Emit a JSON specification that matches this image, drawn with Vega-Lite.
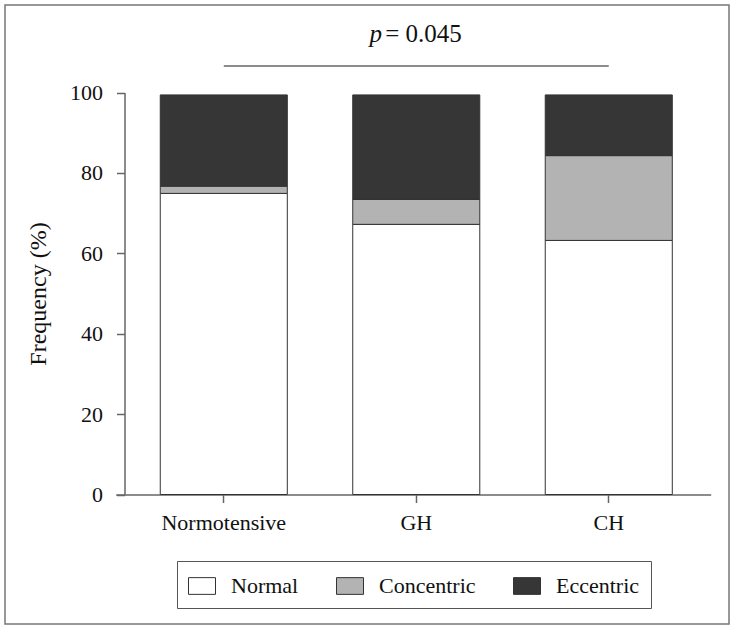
{
  "$schema": "https://vega.github.io/schema/vega-lite/v6.json",
  "width": 724,
  "height": 619,
  "autosize": {"type": "none"},
  "padding": {"left": 5, "top": 5, "right": 6, "bottom": 6},
  "background": "white",
  "config": {
    "font": "Liberation Serif",
    "view": {"stroke": "#777", "strokeWidth": 1.5},
    "axis": {
      "domainColor": "#666", "tickColor": "#666", "domainWidth": 1.5, "tickWidth": 1.5,
      "labelColor": "#111", "titleColor": "#111", "grid": false,
      "labelFont": "Liberation Serif",
      "titleFont": "Liberation Serif",
      "labelFontSize": 22, "tickSize": 8
    },
    "legend": {
      "labelFont": "Liberation Serif"
    },
    "text": {"font": "Liberation Serif"}
  },
  "data": {
    "values": [
      {"group": "Normotensive", "type": "Normal", "rank": 1, "pct": 74.9},
      {"group": "Normotensive", "type": "Concentric", "rank": 2, "pct": 1.8},
      {"group": "Normotensive", "type": "Eccentric", "rank": 3, "pct": 22.7},
      {"group": "GH", "type": "Normal", "rank": 1, "pct": 67.2},
      {"group": "GH", "type": "Concentric", "rank": 2, "pct": 6.2},
      {"group": "GH", "type": "Eccentric", "rank": 3, "pct": 26.0},
      {"group": "CH", "type": "Normal", "rank": 1, "pct": 63.2},
      {"group": "CH", "type": "Concentric", "rank": 2, "pct": 21.1},
      {"group": "CH", "type": "Eccentric", "rank": 3, "pct": 15.1}
    ]
  },
  "layer": [
    {
      "mark": {"type": "bar", "stroke": "#333", "strokeWidth": 1},
      "encoding": {
        "x": {
          "field": "group", "type": "nominal",
          "scale": {"domain": ["Normotensive", "GH", "CH"], "range": [110.7, 705.7], "paddingInner": 0.34, "paddingOuter": 0.2155, "align": 0.537},
          "axis": {"title": null, "labelAngle": 0, "offset": -129.5, "labelPadding": 10}
        },
        "y": {
          "field": "pct", "type": "quantitative", "stack": "zero",
          "scale": {"domain": [0, 100], "range": [489.5, 87.5], "nice": false},
          "axis": {
            "title": "Frequency (%)", "values": [0, 20, 40, 60, 80, 100], "offset": -119.5,
            "labelPadding": 14, "titleFontSize": 24, "titleFontWeight": "normal", "titlePadding": 19
          }
        },
        "fill": {
          "field": "type", "type": "nominal",
          "scale": {"domain": ["Normal", "Concentric", "Eccentric"], "range": ["#ffffff", "#b3b3b3", "#363636"]},
          "legend": {
            "title": null, "orient": "none", "legendX": 172, "legendY": 556,
            "direction": "horizontal", "columns": 3, "columnPadding": 35,
            "symbolType": "M-1,-0.62H1V0.62H-1Z", "symbolSize": 729,
            "symbolStrokeColor": "#333", "symbolStrokeWidth": 1, "symbolOpacity": 1,
            "labelFontSize": 22, "labelOffset": 15, "labelColor": "#111",
            "strokeColor": "#555", "padding": 11
          }
        },
        "order": {"field": "rank", "type": "quantitative"}
      }
    },
    {
      "data": {"values": [{"from": "Normotensive", "to": "CH", "level": 106.6}]},
      "mark": {"type": "rule", "color": "#666", "strokeWidth": 1.5},
      "encoding": {
        "x": {"field": "from", "type": "nominal"},
        "x2": {"field": "to"},
        "y": {"field": "level", "type": "quantitative"}
      }
    },
    {
      "data": {"values": [{"at": "GH", "level": 112.6, "label": "p"}]},
      "mark": {"type": "text", "font": "Liberation Serif", "fontStyle": "italic", "fontSize": 25, "align": "center", "baseline": "alphabetic", "dx": -40.5, "color": "#111"},
      "encoding": {
        "x": {"field": "at", "type": "nominal"},
        "y": {"field": "level", "type": "quantitative"},
        "text": {"field": "label"}
      }
    },
    {
      "data": {"values": [{"at": "GH", "level": 112.6, "label": "= 0.045"}]},
      "mark": {"type": "text", "font": "Liberation Serif", "fontSize": 25, "align": "left", "baseline": "alphabetic", "dx": -31, "color": "#111"},
      "encoding": {
        "x": {"field": "at", "type": "nominal"},
        "y": {"field": "level", "type": "quantitative"},
        "text": {"field": "label"}
      }
    }
  ]
}
